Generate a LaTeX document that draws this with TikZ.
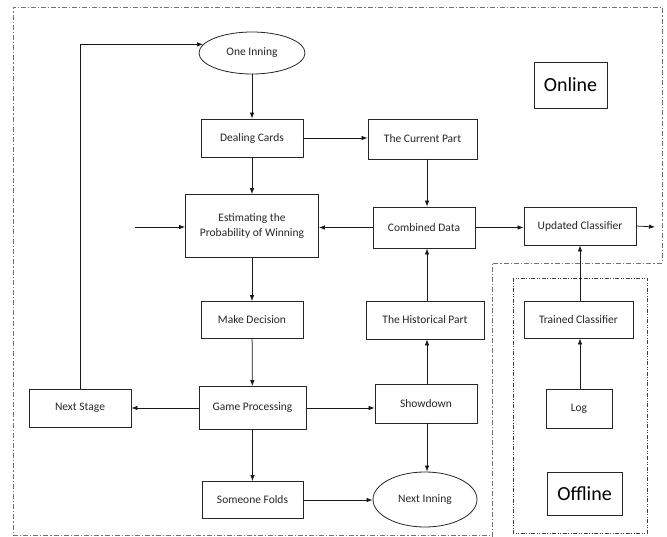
\documentclass[tikz,border=0pt]{standalone}
\usepackage{fontspec}
\setmainfont{Carlito}
\usetikzlibrary{shapes.geometric,arrows.meta}
\begin{document}
\begin{tikzpicture}[x=1pt,y=-1pt,
  lbl/.style={font=\fontsize{11.5}{15}\selectfont, text=black!85},
  box/.style={lbl, draw=black!85, line width=0.8pt, rectangle, inner sep=0pt, align=center},
  oval/.style={lbl, draw=black!85, line width=0.8pt, ellipse, inner sep=0pt, align=center},
  bigbox/.style={draw=black!85, line width=0.8pt, rectangle, inner sep=0pt, font=\fontsize{20}{24}\selectfont},
  arr/.style={-{Latex[length=6pt,width=4.5pt]}, line width=0.75pt, black!90},
  outerb/.style={draw=black!55, line width=0.9pt, dash pattern=on 5pt off 2pt on 1.2pt off 2pt},
  innerb/.style={draw=black!75, line width=0.7pt, dash pattern=on 4pt off 1.5pt on 1pt off 1.5pt on 1pt off 1.5pt}
]
\useasboundingbox (0,0) rectangle (667,537);
% borders
\draw[outerb] (492,537) -- (492,263) -- (662,263) -- (662,7) -- (13,7) -- (13,535) -- (492,535);
\draw[innerb] (513,278) rectangle (647,533);
% nodes
\node[oval, minimum width=106pt, minimum height=42pt] (one) at (252,53) {One Inning};
\node[box, minimum width=102pt, minimum height=38pt] (deal) at (252,138) {Dealing Cards};
\node[box, minimum width=133pt, minimum height=63pt] (est) at (252,226) {Estimating the\\Probability of Winning};
\node[box, minimum width=102pt, minimum height=37pt] (make) at (252,320) {Make Decision};
\node[box, minimum width=107pt, minimum height=43pt] (game) at (252.5,408) {Game Processing};
\node[box, minimum width=102pt, minimum height=38pt] (stage) at (80,408) {Next Stage};
\node[box, minimum width=101pt, minimum height=37pt] (folds) at (252.5,500) {Someone Folds};
\node[box, minimum width=109pt, minimum height=40pt] (cur) at (422.5,139) {The Current Part};
\node[box, minimum width=102pt, minimum height=41pt] (comb) at (424,227.5) {Combined Data};
\node[box, minimum width=118pt, minimum height=38pt] (hist) at (425,320) {The Historical Part};
\node[box, minimum width=102pt, minimum height=39pt] (show) at (426,403.5) {Showdown};
\node[oval, minimum width=104pt, minimum height=55pt] (nexti) at (425,499.5) {Next Inning};
\node[box, minimum width=112pt, minimum height=38pt] (upd) at (580,226) {Updated Classifier};
\node[box, minimum width=109pt, minimum height=37pt] (trained) at (578.5,319.5) {Trained Classifier};
\node[box, minimum width=66pt, minimum height=39pt] (log) at (579,408.5) {Log};
\node[bigbox, minimum width=73pt, minimum height=46pt] (online) at (570.5,85) {Online};
\node[bigbox, minimum width=75pt, minimum height=43pt] (offline) at (584.5,493.5) {Offline};
\coordinate (inL) at (135,227);
\coordinate (outR) at (655,227);
% connectors
\draw[arr] (one) -- (deal);
\draw[arr] (deal.east) -- (deal.east -| cur.west);
\draw[arr] (deal) -- (est);
\draw[arr] (cur.south -| 427,0) -- (comb.north -| 427,0);
\draw[arr] (comb.west) -- (comb.west -| est.east);
\draw[arr] (inL) -- (inL -| est.west);
\draw[arr] (comb.east) -- (comb.east -| upd.west);
\draw[arr] (upd.east) -- (outR);
\draw[arr] (trained.north -| 580,0) -- (upd.south -| 580,0);
\draw[arr] (log.north -| 580,0) -- (trained.south -| 580,0);
\draw[arr] (est) -- (make);
\draw[arr] (make) -- (game);
\draw[arr] (game.west) -- (game.west -| stage.east);
\draw[arr] (game.east) -- (game.east -| show.west);
\draw[arr] (game) -- (folds);
\draw[arr] (folds.east) -- (folds.east -| nexti.west);
\draw[arr] (show.north -| 427,0) -- (hist.south -| 427,0);
\draw[arr] (hist.north -| 427,0) -- (comb.south -| 427,0);
\draw[arr] (show.south -| 427,0) -- (nexti.north -| 427,0);
\draw[arr] (stage.north) |- (one.170);
\end{tikzpicture}
\end{document}
